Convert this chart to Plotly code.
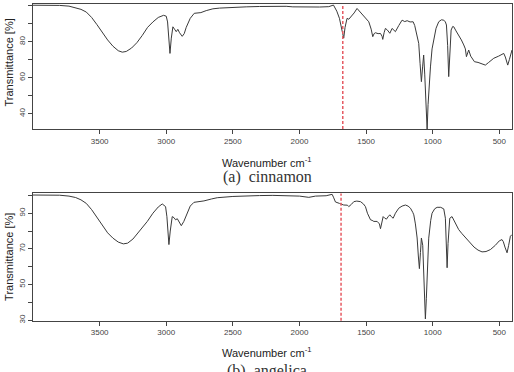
import plotly.graph_objects as go

# ---- data: (a) cinnamon ----
wn_a = [4000, 3900, 3800, 3730, 3680, 3640, 3600, 3560, 3520, 3480, 3440, 3400, 3360, 3330, 3300, 3260,
        3220, 3180, 3140, 3100, 3060, 3020, 3000, 2990, 2980, 2972, 2962, 2950, 2938, 2925, 2913, 2900,
        2880, 2865, 2850, 2820, 2790, 2740, 2700, 2650, 2600, 2500, 2400, 2300, 2200, 2150, 2100, 2050,
        1980, 1920, 1850, 1780, 1745, 1720, 1700, 1680, 1668, 1658, 1643, 1630, 1613, 1590, 1568, 1545,
        1518, 1495, 1480, 1462, 1450, 1440, 1430, 1410, 1392, 1380, 1375, 1365, 1355, 1340, 1322, 1305,
        1292, 1280, 1255, 1230, 1210, 1192, 1170, 1147, 1135, 1122, 1105, 1095, 1085, 1076, 1068, 1060,
        1050, 1042, 1035, 1025, 1017, 1005, 992, 975, 955, 935, 917, 905, 897, 888, 880, 872, 862, 850,
        842, 825, 805, 785, 767, 755, 747, 738, 730, 715, 700, 687, 660, 630, 605, 580, 542, 505, 480,
        467, 455, 437, 425, 405]
tr_a = [100.3, 100.4, 100.2, 99.8, 99.0, 98.0, 96.5, 93.5, 89.5, 85.0, 81.0, 77.5, 75.0, 74.2, 74.6, 76.5,
        79.5, 83.5, 88.0, 91.0, 93.5, 94.7, 94.2, 91.0, 80.0, 73.5, 82.0, 88.3, 87.0, 85.6, 86.9, 85.0,
        83.0, 84.5, 88.0, 93.0, 95.8, 96.2, 97.3, 98.3, 98.7, 99.2, 99.4, 99.6, 99.8, 99.6, 99.7, 99.4,
        99.3, 99.0, 99.3, 99.5, 100.4, 97.0, 93.0, 86.0, 82.0, 88.0, 93.0, 92.5, 93.8, 96.0, 98.5, 96.5,
        93.9, 92.5, 91.1, 87.0, 82.8, 84.5, 85.0, 84.5, 84.6, 83.0, 81.3, 85.0, 87.4, 86.5, 84.7, 87.4,
        86.5, 85.6, 89.0, 92.0, 91.2, 91.7, 91.0, 91.1, 89.0, 84.7, 79.1, 68.0, 57.8, 66.0, 72.6, 62.0,
        40.0, 31.0, 45.0, 58.0, 66.0, 76.0, 82.0, 87.5, 91.1, 92.2, 92.0, 91.0, 89.3, 78.0, 60.6, 75.0,
        86.5, 88.5, 88.3, 86.0, 83.7, 81.0, 78.2, 76.0, 71.7, 74.0, 75.4, 72.0, 70.5, 68.9, 68.5, 67.8,
        67.0, 68.5, 70.8, 72.0, 73.0, 73.5, 71.5, 67.0, 70.0, 75.4]

# ---- data: (b) angelica ----
wn_b = [4000, 3900, 3800, 3730, 3680, 3640, 3600, 3560, 3517, 3480, 3440, 3400, 3360, 3322, 3290, 3250,
        3210, 3170, 3142, 3100, 3060, 3030, 3005, 2995, 2988, 2980, 2970, 2955, 2942, 2930, 2917, 2900,
        2887, 2868, 2850, 2820, 2792, 2717, 2660, 2617, 2500, 2392, 2300, 2200, 2100, 2000, 1930, 1880,
        1800, 1755, 1745, 1730, 1700, 1668, 1640, 1630, 1610, 1592, 1570, 1542, 1520, 1505, 1490, 1467,
        1455, 1442, 1417, 1400, 1392, 1380, 1372, 1360, 1347, 1335, 1322, 1310, 1297, 1280, 1255, 1230,
        1205, 1185, 1167, 1150, 1142, 1130, 1117, 1108, 1100, 1092, 1085, 1075, 1068, 1060, 1055, 1048,
        1040, 1030, 1015, 1005, 985, 967, 940, 917, 905, 898, 892, 885, 872, 855, 840, 822, 805, 780,
        750, 717, 690, 660, 630, 600, 567, 530, 500, 480, 470, 458, 442, 430, 417, 405]
tr_b = [100.2, 100.3, 100.1, 99.6, 98.8, 97.5, 95.5, 92.0, 87.2, 83.0, 79.0, 76.0, 73.8, 72.8, 73.2, 75.5,
        79.0, 82.5, 85.4, 90.0, 93.5, 95.2, 93.7, 88.0, 80.0, 72.4, 80.0, 88.1, 87.5, 86.3, 86.9, 85.0,
        83.0, 85.4, 89.0, 94.0, 96.1, 96.9, 98.0, 98.7, 99.4, 99.8, 99.9, 100.0, 99.7, 99.6, 98.9, 99.6,
        99.8, 100.6, 99.0, 96.3, 95.5, 94.6, 94.5, 93.7, 95.0, 96.5, 96.8, 96.5, 95.2, 93.7, 90.0, 86.3,
        86.0, 85.4, 85.4, 84.0, 81.3, 86.0, 88.1, 87.2, 86.7, 88.0, 89.1, 88.0, 87.2, 90.0, 92.8, 94.0,
        94.6, 94.0, 92.8, 90.5, 89.1, 84.0, 76.1, 66.0, 58.9, 68.0, 76.1, 72.0, 60.0, 42.0, 30.7, 42.0,
        62.0, 76.0, 86.0, 90.0, 92.5, 93.3, 93.3, 92.4, 87.2, 75.0, 59.4, 73.0, 87.2, 88.1, 86.0, 82.6,
        80.8, 78.5, 76.0, 73.3, 71.0, 69.3, 68.3, 68.5, 69.6, 72.0, 74.5, 75.2, 74.0, 71.0, 67.8, 72.0,
        77.1, 78.0]

x_ticks = [3500, 3000, 2500, 2000, 1500, 1000, 500]
y_ticks_a = [40, 50, 60, 70, 80, 90, 100]
y_text_a = ["40", "", "60", "", "80", "", "100"]
y_ticks_b = [30, 40, 50, 60, 70, 80, 90, 100]
y_text_b = ["30", "", "50", "", "70", "", "90", ""]
marker_a = 1675
marker_b = 1688

W, H = 514, 372
LINE = "#3a3a3a"
AX = "#444444"
TICKFONT = dict(family="Liberation Sans Narrow, Arial Narrow, Liberation Sans, Arial", size=8, color="#444444")

fig = go.Figure()
fig.add_trace(go.Scatter(x=wn_a, y=tr_a, mode="lines", line=dict(color=LINE, width=1),
                         xaxis="x", yaxis="y", showlegend=False, hoverinfo="skip"))
fig.add_trace(go.Scatter(x=wn_b, y=tr_b, mode="lines", line=dict(color=LINE, width=1),
                         xaxis="x2", yaxis="y2", showlegend=False, hoverinfo="skip"))

xdom = [33 / W, 512 / W]
dom_a = [1 - 130 / H, 1 - 4 / H]
dom_b = [1 - 323.3 / H, 1 - 195 / H]

common_x = dict(range=[4000, 405], tickvals=x_ticks, ticks="outside", ticklen=4, tickcolor=AX,
                tickfont=TICKFONT, showline=True, mirror=True, linecolor=AX, linewidth=1,
                showgrid=False, zeroline=False, domain=xdom)
common_y = dict(ticks="outside", ticklen=4, tickcolor=AX, tickfont=TICKFONT, tickangle=-90,
                showline=True, mirror=True, linecolor=AX, linewidth=1, showgrid=False, zeroline=False)

fig.update_layout(
    width=W, height=H, margin=dict(l=0, r=0, t=0, b=0),
    paper_bgcolor="white", plot_bgcolor="white",
    xaxis=dict(common_x, anchor="y"),
    yaxis=dict(common_y, domain=dom_a, range=[31.5, 101], tickvals=y_ticks_a, ticktext=y_text_a, anchor="x"),
    xaxis2=dict(common_x, anchor="y2"),
    yaxis2=dict(common_y, domain=dom_b, range=[29.7, 101.1], tickvals=y_ticks_b, ticktext=y_text_b, anchor="x2"),
)

fig.add_shape(type="line", xref="x", yref="y domain", x0=marker_a, x1=marker_a, y0=0, y1=1,
              line=dict(color="#e65a62", width=1.5, dash="3px,2px"))
fig.add_shape(type="line", xref="x2", yref="y2 domain", x0=marker_b, x1=marker_b, y0=0, y1=1,
              line=dict(color="#e65a62", width=1.5, dash="3px,2px"))

title_font = dict(family="Liberation Sans, Arial", size=11, color="#222222")
cap_font = dict(family="Liberation Serif, Times New Roman", size=16, color="#333333")

def ann(x, y, text, font, angle=0):
    fig.add_annotation(x=x / W, y=1 - y / H, xref="paper", yref="paper", text=text, showarrow=False,
                       font=font, textangle=angle, xanchor="center", yanchor="middle")

ann(9, 63, "Transmittance [%]", title_font, -90)
ann(9, 259, "Transmittance [%]", title_font, -90)
ann(267, 163, "Wavenumber cm<sup>-1</sup>", title_font)
ann(267, 355, "Wavenumber cm<sup>-1</sup>", title_font)
ann(267, 178, "(a)  cinnamon", cap_font)
ann(267, 374, "(b)  angelica", cap_font)

fig.write_html("out.html")
